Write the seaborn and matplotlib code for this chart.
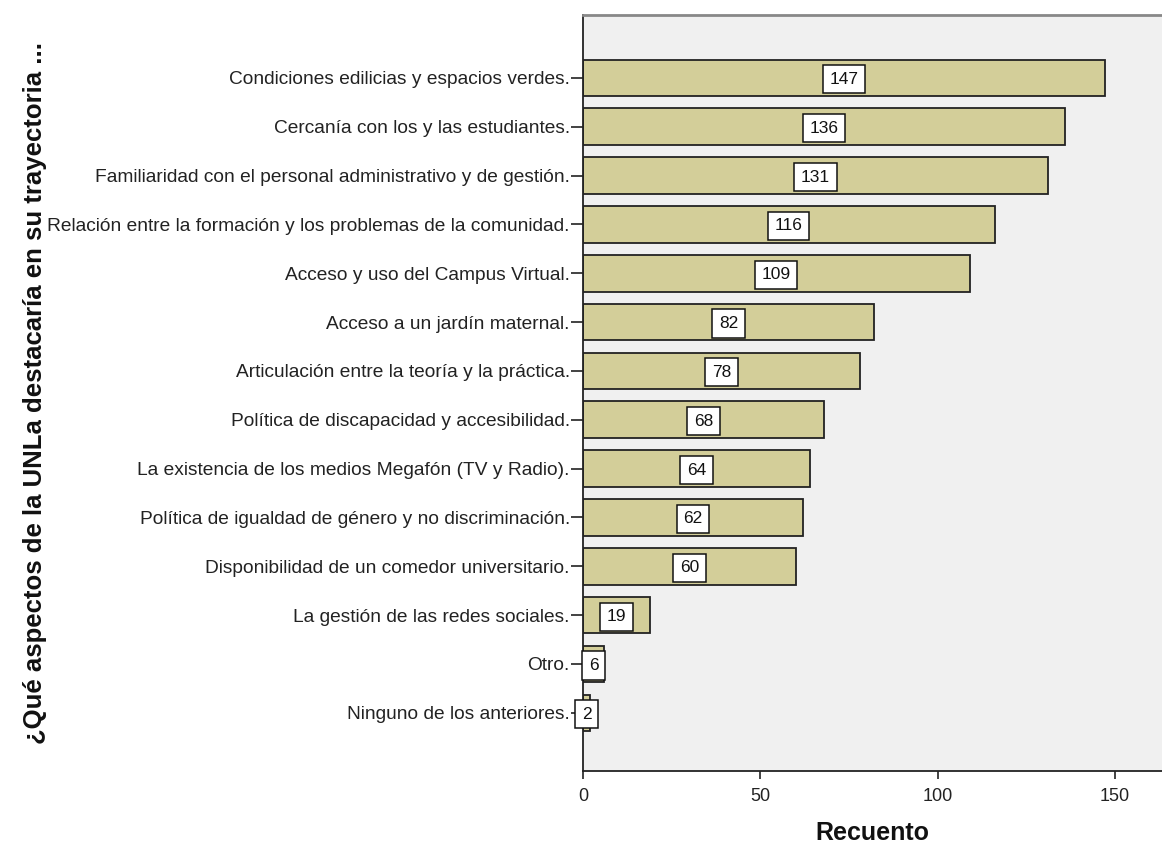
import matplotlib
matplotlib.use("Agg")
import matplotlib.pyplot as plt
import seaborn as sns
import pandas as pd

categorias = [
    "Condiciones edilicias y espacios verdes.",
    "Cercanía con los y las estudiantes.",
    "Familiaridad con el personal administrativo y de gestión.",
    "Relación entre la formación y los problemas de la comunidad.",
    "Acceso y uso del Campus Virtual.",
    "Acceso a un jardín maternal.",
    "Articulación entre la teoría y la práctica.",
    "Política de discapacidad y accesibilidad.",
    "La existencia de los medios Megafón (TV y Radio).",
    "Política de igualdad de género y no discriminación.",
    "Disponibilidad de un comedor universitario.",
    "La gestión de las redes sociales.",
    "Otro.",
    "Ninguno de los anteriores.",
]
recuento = [147, 136, 131, 116, 109, 82, 78, 68, 64, 62, 60, 19, 6, 2]
x_ticks = [0, 50, 100, 150]

df = pd.DataFrame({"categoria": categorias, "recuento": recuento})

sns.set_theme(style="white")
plt.rcParams["font.family"] = ["Liberation Sans", "DejaVu Sans"]

fig = plt.figure(figsize=(11.62, 8.5), dpi=100)
ax = fig.add_axes([0.5017, 0.093, 0.4983, 0.8895])
ax.set_facecolor("#F0F0F0")

sns.barplot(data=df, x="recuento", y="categoria", orient="h", ax=ax,
            color="#D3CE99", saturation=1, width=0.75,
            edgecolor="#222222", linewidth=1.3)

# value labels in white boxes at the middle of each bar
for i, v in enumerate(recuento):
    ax.text(v / 2, i + 0.03, str(v), ha="center", va="center", fontsize=12.5,
            color="#111111",
            bbox=dict(boxstyle="square,pad=0.38", facecolor="white",
                      edgecolor="#111111", linewidth=1.1))

ax.set_xlim(0, 163.2)
ax.set_ylim(len(categorias) - 1 + 1.19, -1.29)
ax.set_xticks(x_ticks)
ax.set_xticklabels([str(t) for t in x_ticks], fontsize=13, color="#222222")
ax.tick_params(axis="x", direction="out", length=6, width=1.2, color="#222222", pad=6)
ax.tick_params(axis="y", direction="out", length=9, width=1.2, color="#222222",
               labelsize=13.8, labelcolor="#222222", pad=0.5)
ax.tick_params(left=True, bottom=True)

ax.set_xlabel("Recuento", fontsize=18, fontweight="bold", labelpad=12, color="#111111")
ax.set_ylabel("¿Qué aspectos de la UNLa destacaría en su trayectoria ...",
              fontsize=18.5, fontweight="bold", color="#111111")
ax.yaxis.set_label_coords(-0.925, 0.5)

for side in ["left", "bottom"]:
    ax.spines[side].set_color("#222222")
    ax.spines[side].set_linewidth(1.3)
ax.spines["top"].set_color("#888888")
ax.spines["top"].set_linewidth(2)
ax.spines["right"].set_visible(False)

fig.savefig("out.png", dpi=100, facecolor="white")
